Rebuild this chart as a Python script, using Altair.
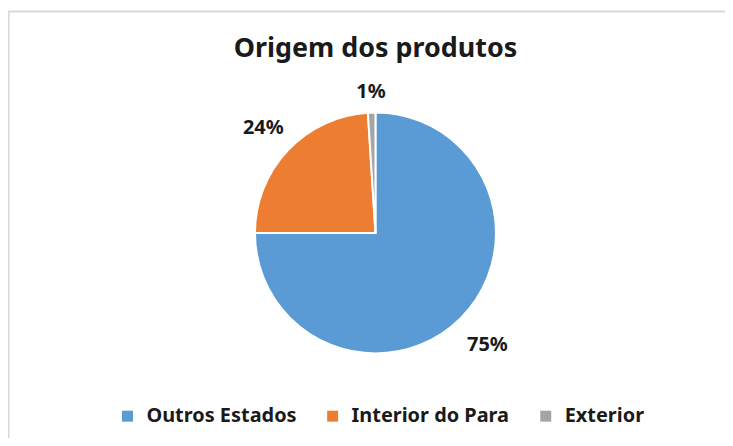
import altair as alt
import pandas as pd

categories = ["Outros Estados", "Interior do Para", "Exterior"]
values = [75, 24, 1]
labels = ["75%", "24%", "1%"]
colors = ["#5B9BD5", "#ED7D31", "#A5A5A5"]

df = pd.DataFrame({"cat": categories, "val": values, "lab": labels, "order": [0, 1, 2]})

FONT = "Noto Sans"
CX, CY = 369, 223

base = alt.Chart(df).encode(
    theta=alt.Theta("val:Q", stack=True),
    order=alt.Order("order:Q"),
)

arcs = base.mark_arc(outerRadius=121, stroke="white", strokeWidth=2).encode(
    color=alt.Color(
        "cat:N",
        scale=alt.Scale(domain=categories, range=colors),
        sort=categories,
        legend=alt.Legend(
            title=None,
            orient="none",
            direction="horizontal",
            legendX=110,
            legendY=397,
            symbolType="square",
            symbolSize=121,
            symbolStrokeWidth=0,
            labelFont=FONT,
            labelFontSize=20,
            labelFontWeight="bold",
            labelColor="#1a1a1a",
            labelOffset=9,
            columnPadding=26,
            labelLimit=300,
        ),
    ),
    x=alt.value(CX),
    y=alt.value(CY),
)

texts = base.mark_text(
    font=FONT, fontSize=20, fontWeight="bold", color="#1a1a1a"
).encode(
    text="lab:N",
    radius=alt.Radius("val:Q", scale=alt.Scale(type="log", domain=[1, 75], range=[142, 159])),
    x=alt.value(CX),
    y=alt.value(CY),
)

frame_top = alt.Chart(df).mark_rule(color="#d9d9d9", strokeWidth=1.5).encode(
    x=alt.value(0), x2=alt.value(730), y=alt.value(0.5)
)
frame_left = alt.Chart(df).mark_rule(color="#d9d9d9", strokeWidth=1.5).encode(
    x=alt.value(0.5), y=alt.value(0), y2=alt.value(440)
)

chart = (
    alt.layer(frame_top, frame_left, arcs, texts)
    .properties(
        width=720,
        height=428,
        autosize=alt.AutoSizeParams(type="none"),
        padding={"left": 0, "top": 2, "right": 0, "bottom": 0},
        title=alt.TitleParams(
            "Origem dos produtos",
            font=FONT,
            fontSize=27,
            fontWeight="bold",
            color="#1a1a1a",
            anchor="middle",
            orient="top",
            baseline="bottom",
            offset=-80,
            dx=9,
        ),
    )
    .configure_view(stroke=None)
)

chart.save("out.html", embed_options={"renderer": "svg", "actions": False})
